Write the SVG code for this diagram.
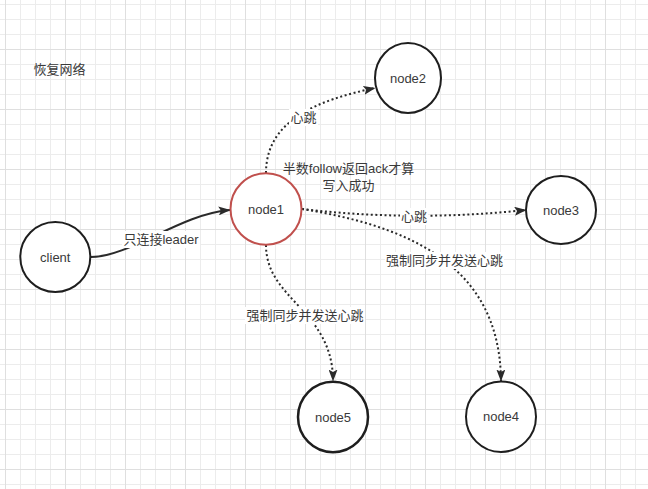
<svg xmlns="http://www.w3.org/2000/svg" width="648" height="489" viewBox="0 0 648 489">
  <defs>
    <pattern id="grid" patternUnits="userSpaceOnUse" x="5" y="49" width="60" height="60">
      <path d="M15.5,0V60M30.5,0V60M45.5,0V60M0,15.5H60M0,30.5H60M0,45.5H60" stroke="#ececec" stroke-width="1" fill="none"/>
      <path d="M0.5,0V60M0,0.5H60" stroke="#dfdfdf" stroke-width="1" fill="none"/>
    </pattern>
    <marker id="arrow" viewBox="0 0 12 9" refX="11.5" refY="4.5" markerWidth="12" markerHeight="9" markerUnits="userSpaceOnUse" orient="auto">
      <path d="M0,0 L12,4.5 L0,9 L2.5,4.5 Z" fill="#2a2a2a" stroke="none"/>
    </marker>
    <style>
      .node { fill: #ffffff; stroke: #1e1e1e; stroke-width: 2; }
      .leader { fill: #ffffff; stroke: #c0504d; stroke-width: 2; }
      .txt { font-family: "Liberation Sans", "Noto Sans CJK SC", sans-serif; font-size: 13px; fill: #3a3a3a; text-anchor: middle; }
      .solid { fill: none; stroke: #2a2a2a; stroke-width: 2; marker-end: url(#arrow); }
      .dotted { fill: none; stroke: #2a2a2a; stroke-width: 2; stroke-dasharray: 2 2.6; marker-end: url(#arrow); }
      .lblbg { fill: #ffffff; stroke: none; }
    </style>
  </defs>

  <rect width="648" height="489" fill="#ffffff"/>
  <rect width="648" height="489" fill="url(#grid)"/>

  <text id="title" class="txt" x="59.5" y="74">恢复网络</text>

  <g id="connectors">
    <g id="edge-client-node1">
      <path class="solid" d="M91,257 C130,257 180,214 230,210"/>
      <rect class="lblbg" x="122" y="231" width="78" height="17"/>
      <text class="txt" x="161" y="243.5">只连接leader</text>
    </g>
    <g id="edge-node1-node2">
      <path class="dotted" d="M266,173 C266,120 318,100 375,88"/>
      <rect class="lblbg" x="289" y="109" width="29" height="17"/>
      <text class="txt" x="303.5" y="121.5">心跳</text>
    </g>
    <g id="edge-node1-node3">
      <path class="dotted" d="M302,209 Q413,222 526,210"/>
      <rect class="lblbg" x="400" y="208" width="28" height="17"/>
      <text class="txt" x="414" y="221">心跳</text>
    </g>
    <g id="edge-node1-node4">
      <path class="dotted" d="M302,209 C400,225 500,260 501,381"/>
      <rect class="lblbg" x="385" y="252" width="119" height="17"/>
      <text class="txt" x="444.5" y="264.5">强制同步并发送心跳</text>
    </g>
    <g id="edge-node1-node5">
      <path class="dotted" d="M266,245 C266,300 333,310 333,381"/>
      <rect class="lblbg" x="245" y="307" width="120" height="17"/>
      <text class="txt" x="305" y="319.5">强制同步并发送心跳</text>
    </g>
  </g>

  <g id="note">
    <text class="txt" x="348.5" y="172.8">半数follow返回ack才算</text>
    <text class="txt" x="348.5" y="189.5">写入成功</text>
  </g>

  <g id="client">
    <ellipse class="node" cx="55.3" cy="257" rx="35" ry="35"/>
    <text class="txt" x="55.3" y="261.5">client</text>
  </g>
  <g id="node1">
    <ellipse class="leader" cx="266" cy="209" rx="35.5" ry="35.8"/>
    <text class="txt" x="266" y="213.5">node1</text>
  </g>
  <g id="node2">
    <ellipse class="node" cx="408" cy="78" rx="33" ry="35"/>
    <text class="txt" x="408" y="82.5">node2</text>
  </g>
  <g id="node3">
    <ellipse class="node" cx="561" cy="210" rx="35" ry="34"/>
    <text class="txt" x="561" y="214.5">node3</text>
  </g>
  <g id="node4">
    <ellipse class="node" cx="501" cy="416.7" rx="35" ry="35.3"/>
    <text class="txt" x="501" y="421">node4</text>
  </g>
  <g id="node5">
    <ellipse class="node" cx="333" cy="417" rx="35" ry="35.3" style="stroke-width:2.5"/>
    <text class="txt" x="333" y="421.5">node5</text>
  </g>
</svg>
